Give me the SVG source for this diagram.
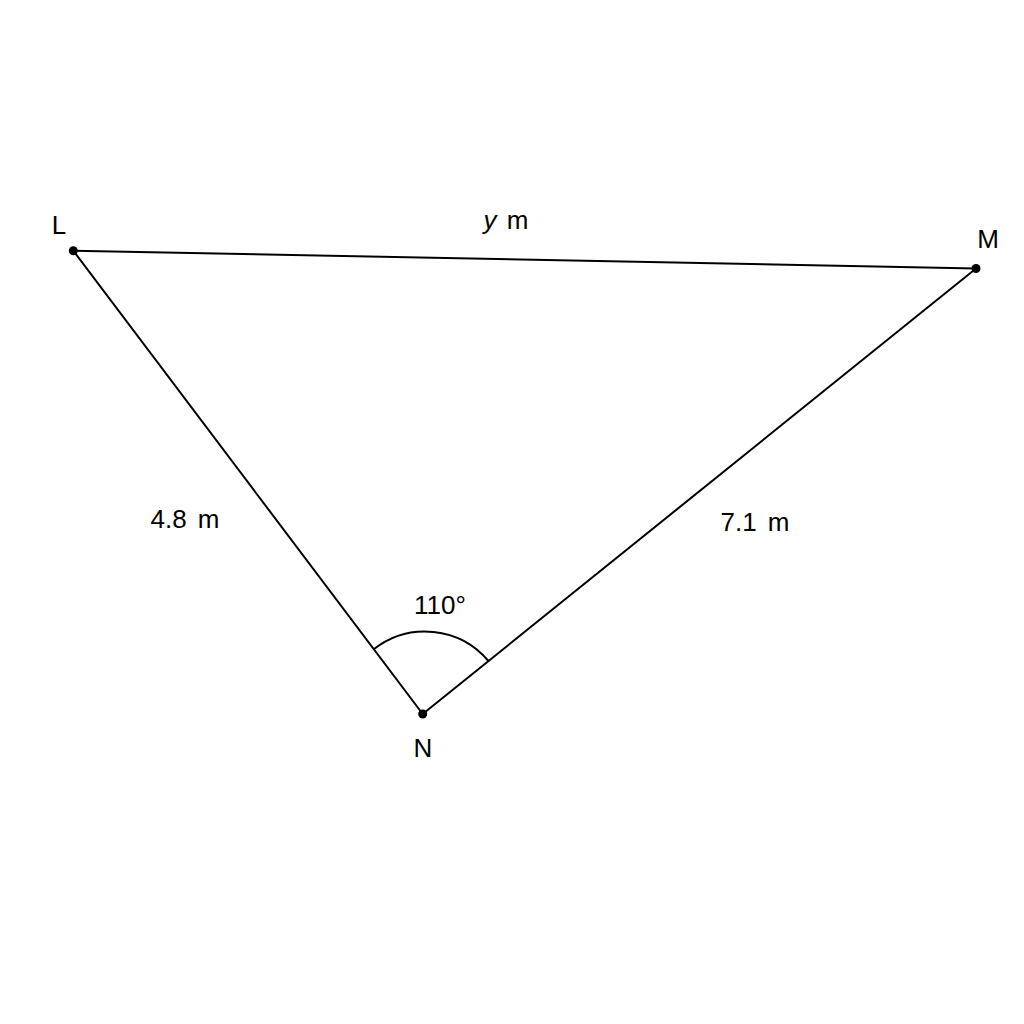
<svg xmlns="http://www.w3.org/2000/svg" width="1024" height="1024" viewBox="0 0 1024 1024">
<style>
.edge{stroke:#000;stroke-width:2;fill:none;stroke-linecap:round}
.pt{fill:#000}
text{font-family:"Liberation Sans",Arial,sans-serif;font-size:26px;fill:#000;text-anchor:middle}
</style>
<rect width="1024" height="1024" fill="#fff"/>
<g id="connectors">
<line class="edge" x1="73.3" y1="250.7" x2="976" y2="268.5"/>
<line class="edge" x1="73.3" y1="250.7" x2="422.7" y2="714"/>
<line class="edge" x1="422.7" y1="714" x2="976" y2="268.5"/>
<path id="angle-arc" class="edge" d="M 374 649 A 83 83 0 0 1 488.5 661"/>
</g>
<g id="node-L"><circle class="pt" cx="73.3" cy="250.7" r="4.5"/><text x="59" y="234">L</text></g>
<g id="node-M"><circle class="pt" cx="976" cy="268.5" r="4.5"/><text x="988" y="248">M</text></g>
<g id="node-N"><circle class="pt" cx="422.7" cy="714" r="4.5"/><text x="423" y="757">N</text></g>
<g id="labels">
<text x="506" y="229" word-spacing="3"><tspan font-style="italic">y</tspan> m</text>
<text x="185" y="528" word-spacing="4">4.8 m</text>
<text x="755" y="531" word-spacing="4">7.1 m</text>
<text x="440" y="614">110°</text>
</g>
</svg>
